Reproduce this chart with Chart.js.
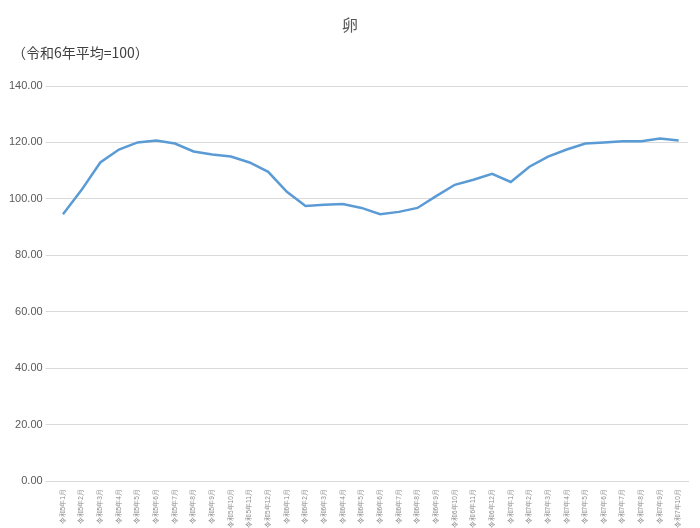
<!DOCTYPE html>
<html lang="ja">
<head>
<meta charset="UTF-8">
<title>卵</title>
<style>
  body { margin: 0; background: #fff; font-family: "Noto Sans CJK JP", sans-serif; }
  .wrap { position: relative; width: 700px; height: 528px; }
  .title { position: absolute; top: 12px; width: 700px; text-align: center; font-size: 16px; color: #595959; }
  .note { position: absolute; top: 42px; left: 12px; font-size: 14px; color: #404040; }
  canvas { position: absolute; top: 0; left: 0; }
</style>
</head>
<body>
<div class="wrap">
  <canvas id="chart" width="700" height="528"></canvas>
  <div class="title">卵</div>
  <div class="note">（令和6年平均=100）</div>
</div>
<script src="https://cdn.jsdelivr.net/npm/chart.js"></script>
<script>
  // month labels 令和5年1月 .. 令和7年10月
  var labels = [];
  for (var y = 5; y <= 7; y++) {
    for (var m = 1; m <= 12; m++) {
      if (y === 7 && m > 10) break;
      labels.push('令和' + y + '年' + m + '月');
    }
  }
  var values = [94.6, 103.2, 112.9, 117.5, 120.0, 120.7, 119.6, 116.8, 115.7, 115.0, 112.9, 109.6,
                102.5, 97.5, 97.9, 98.2, 96.8, 94.6, 95.4, 96.8, 101.0, 105.0, 106.8, 108.9,
                106.0, 111.4, 115.0, 117.5, 119.6, 120.0, 120.4, 120.4, 121.4, 120.7];

  new Chart(document.getElementById('chart'), {
    type: 'line',
    data: {
      labels: labels,
      datasets: [{
        data: values,
        borderColor: '#5B9BD5',
        borderWidth: 2.5,
        pointRadius: 0,
        tension: 0
      }]
    },
    options: {
      responsive: false,
      animation: false,
      layout: { padding: { top: 86, left: 6, right: 12, bottom: 0 } },
      plugins: { legend: { display: false }, tooltip: { enabled: false } },
      scales: {
        x: {
          offset: true,
          grid: { display: false },
          border: { color: '#d9d9d9' },
          ticks: { minRotation: 90, maxRotation: 90, autoSkip: false, padding: 0, color: '#8c8c8c', font: { size: 6.5 } }
        },
        y: {
          min: 0, max: 140,
          ticks: { stepSize: 20, color: '#595959', font: { size: 11 }, callback: function (v) { return v.toFixed(2); } },
          grid: { color: '#d9d9d9' },
          border: { display: false }
        }
      }
    }
  });
</script>
</body>
</html>
